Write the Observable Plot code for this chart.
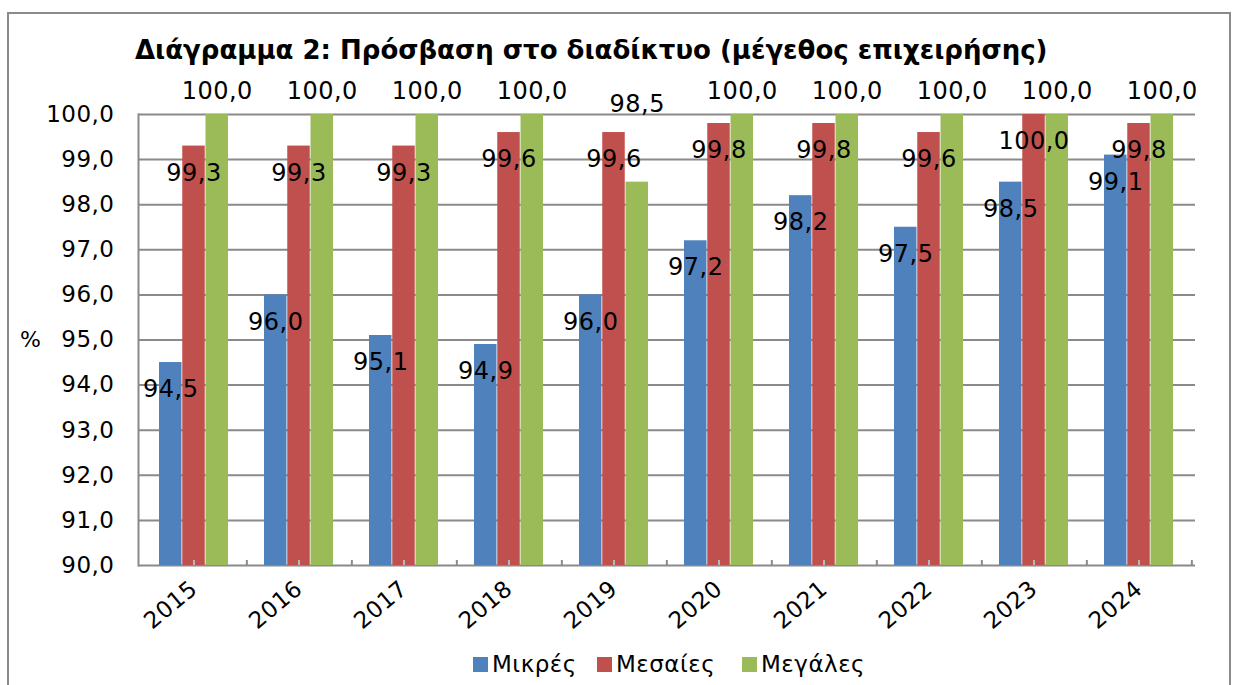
<!DOCTYPE html>
<html>
<head>
<meta charset="utf-8">
<script src="https://cdn.jsdelivr.net/npm/d3@7"></script>
<script src="https://cdn.jsdelivr.net/npm/@observablehq/plot@0.6"></script>
<style>
  html, body { margin: 0; padding: 0; background: #fff; }
  #wrap { position: relative; width: 1236px; height: 685px; overflow: hidden; font-family: "DejaVu Sans", Verdana, sans-serif; }
  #frame { position: absolute; left: 7px; top: 12px; width: 1224px; height: 690px; border: 2px solid #8a8a8a; box-sizing: border-box; }
  #title { position: absolute; left: 135px; top: 35px; font-size: 26px; font-weight: bold; color: #000; white-space: nowrap; }
  #unit { position: absolute; left: 20px; top: 327px; font-size: 22px; color: #000; }
  #legend { position: absolute; left: 0; top: 651px; width: 1236px; height: 30px; font-size: 23px; letter-spacing: 0.5px; color: #000; white-space: nowrap; }
  #legend .sw { display: inline-block; width: 15px; height: 15px; margin-right: 4px; }
  #legend .item { position: absolute; top: 0; display: flex; align-items: center; }
  #chart { position: absolute; left: 0; top: 0; }
  #chart svg text { letter-spacing: 0.5px; }
</style>
</head>
<body>
<div id="wrap">
  <div id="frame"></div>
  <div id="chart"></div>
  <div id="title">Διάγραμμα 2: Πρόσβαση στο διαδίκτυο (μέγεθος επιχειρήσης)</div>
  <div id="unit">%</div>
  <div id="legend"></div>
</div>
<script>
const years = ["2015","2016","2017","2018","2019","2020","2021","2022","2023","2024"];
const seriesNames = ["Μικρές","Μεσαίες","Μεγάλες"];
const mikres  = [94.5, 96.0, 95.1, 94.9, 96.0, 97.2, 98.2, 97.5, 98.5, 99.1];
const mesaies = [99.3, 99.3, 99.3, 99.6, 99.6, 99.8, 99.8, 99.6, 100.0, 99.8];
const megales = [100.0, 100.0, 100.0, 100.0, 98.5, 100.0, 100.0, 100.0, 100.0, 100.0];
const yTicks = [90, 91, 92, 93, 94, 95, 96, 97, 98, 99, 100];
const colors = ["#4F81BD", "#C0504D", "#9BBB59"];

const rows = (vals) => years.map((y, i) => ({year: y, value: vals[i]}));
const dMik = rows(mikres), dMes = rows(mesaies), dMeg = rows(megales);
const fmt = v => v.toFixed(1).replace(".", ",");

const W = 1236, H = 685;
const mL = 138, mR = 41, mT = 114, mB = 120;
const step = (W - mL - mR) / years.length;
const bw = step * 0.66;
const barW = bw / 3;
const font = "DejaVu Sans, Verdana, sans-serif";
const fs = 23;
const fsLab = 24;

const plot = Plot.plot({
  width: W, height: H,
  marginLeft: mL, marginRight: mR, marginTop: mT, marginBottom: mB,
  style: {fontFamily: font, fontSize: fs + "px", color: "#000", background: "transparent"},
  x: {type: "band", domain: years, paddingInner: 0.34, paddingOuter: 0.17, label: null},
  y: {domain: [90, 100], label: null},
  marks: [
    Plot.ruleY(yTicks, {stroke: "#8a8a8a", strokeWidth: 2}),
    Plot.frame({anchor: "left", stroke: "#8a8a8a", strokeWidth: 2}),
    Plot.barY(dMik, {x: "year", y: "value", fill: colors[0], insetLeft: 0, insetRight: 2 * barW, clip: true}),
    Plot.barY(dMes, {x: "year", y: "value", fill: colors[1], insetLeft: barW, insetRight: barW, clip: true}),
    Plot.barY(dMeg, {x: "year", y: "value", fill: colors[2], insetLeft: 2 * barW, insetRight: 0, clip: true}),
    Plot.ruleX(years, {x: d => d, y1: 90, y2: 90.11, stroke: "#b8b8b8", strokeWidth: 2}),
    Plot.ruleX(years, {x: d => d, y1: 90, y2: 90.11, dx: step / 2, stroke: "#8a8a8a", strokeWidth: 2}),
    Plot.axisY({ticks: yTicks, tickFormat: fmt, tickSize: 0, tickPadding: 24, fontSize: fs}),
    Plot.axisX({tickSize: 0, tickRotate: -40, tickPadding: 20, fontSize: fs}),
    Plot.text(dMik, {x: "year", y: "value", text: d => fmt(d.value), dx: -barW, dy: 27, fill: "#000", fontSize: fsLab}),
    Plot.text(dMes, {x: "year", y: "value", text: d => fmt(d.value), dx: 0, dy: 27, fill: "#000", fontSize: fsLab}),
    Plot.text(dMeg.filter(d => d.value >= 100), {x: "year", frameAnchor: "top", text: d => fmt(d.value), dx: barW, dy: -33, fill: "#000", fontSize: fsLab}),
    Plot.text(dMeg.filter(d => d.value < 100), {x: "year", frameAnchor: "top", text: d => fmt(d.value), dx: barW, dy: -20, fill: "#000", fontSize: fsLab})
  ]
});
document.getElementById("chart").appendChild(plot);

const legendX = [473, 597, 742];
const leg = document.getElementById("legend");
seriesNames.forEach((n, i) => {
  const it = document.createElement("span");
  it.className = "item";
  it.style.left = legendX[i] + "px";
  it.innerHTML = `<span class="sw" style="background:${colors[i]}"></span><span>${n}</span>`;
  leg.appendChild(it);
});
</script>
</body>
</html>
